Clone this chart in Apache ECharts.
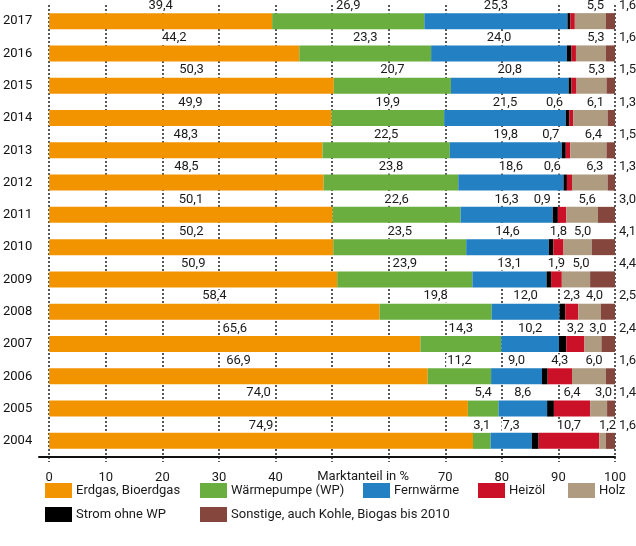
<!DOCTYPE html>
<html>
<head>
<meta charset="utf-8">
<script src="https://cdn.jsdelivr.net/npm/echarts@6/dist/echarts.min.js"></script>
<style>html,body{margin:0;padding:0;background:#fff}#c{width:636px;height:546px}</style>
</head>
<body>
<div id="c"></div>
<script>
const years = ['2004','2005','2006','2007','2008','2009','2010','2011','2012','2013','2014','2015','2016','2017'];
const erdgas   = [74.9, 74.0, 66.9, 65.6, 58.4, 50.9, 50.2, 50.1, 48.5, 48.3, 49.9, 50.3, 44.2, 39.4];
const waermepumpe = [3.1, 5.4, 11.2, 14.3, 19.8, 23.9, 23.5, 22.6, 23.8, 22.5, 19.9, 20.7, 23.3, 26.9];
const fernwaerme = [7.3, 8.6, 9.0, 10.2, 12.0, 13.1, 14.6, 16.3, 18.6, 19.8, 21.5, 20.8, 24.0, 25.3];
const strom    = [1.2, 1.2, 1.0, 1.3, 1.0, 0.8, 0.8, 0.9, 0.6, 0.7, 0.6, 0.5, 0.8, 0.5];
const heizoel  = [10.7, 6.4, 4.3, 3.2, 2.3, 1.9, 1.8, 1.5, 0.9, 0.8, 0.7, 0.9, 0.8, 0.8];
const holz     = [1.2, 3.0, 6.0, 3.0, 4.0, 5.0, 5.0, 5.6, 6.3, 6.4, 6.1, 5.3, 5.3, 5.5];
const sonstige = [1.6, 1.4, 1.6, 2.4, 2.5, 4.4, 4.1, 3.0, 1.3, 1.5, 1.3, 1.5, 1.6, 1.6];
const stromLabeledYears = ['2011','2012','2013','2014'];
const heizoelLabeledYears = ['2004','2005','2006','2007','2008','2009','2010'];
const xTicks = [0,10,20,30,40,50,60,70,80,90,100];
const hiddenTicks = [50,60];

const FONT = 'Roboto, "Noto Sans", sans-serif';
const fmt = v => v.toFixed(1).replace('.', ',');
const baseLabel = {show:true, position:'top', distance:1, color:'#1a1a1a', fontSize:13, fontFamily:FONT,
  backgroundColor:'#fff', padding:[0,1],
  formatter: p => fmt(p.value)};

function mk(name, data, color, labelExtra, labelYears) {
  return {
    name, type:'bar', stack:'all', barWidth:16, data: data.map((v,i)=>{
      const d = {value:v};
      if (labelYears && labelYears.indexOf(years[i]) < 0) d.label = {show:false};
      return d;
    }),
    itemStyle:{color}, label:Object.assign({}, baseLabel, labelExtra||{}),
    emphasis:{disabled:true}
  };
}

const names = ['Erdgas, Bioerdgas','Wärmepumpe (WP)','Fernwärme','Strom ohne WP','Heizöl','Holz','Sonstige, auch Kohle, Biogas bis 2010'];
const colors = ['#F29400','#69AE3E','#2280C3','#000000','#CB1127','#AF9B80','#85463D'];

const legendPos = [[45,483],[200,483],[363,483],[45,507],[478,483],[568,483],[200,507]];
const legends = names.map((n,i)=>({
  data:[n], left:legendPos[i][0], top:legendPos[i][1], padding:0, itemWidth:27, itemHeight:15, itemGap:0,
  icon:'rect', selectedMode:false, textStyle:{fontSize:13, fontFamily:FONT, color:'#1a1a1a', padding:[0,0,0,-1]}
}));

const chart = echarts.init(document.getElementById('c'));
chart.setOption({
  animation:false,
  backgroundColor:'#fff',
  grid:{left:45, right:21, top:5, bottom:89, containLabel:false},
  legend: legends,
  xAxis:{type:'value', min:0, max:100, interval:10,
    name:'Marktanteil in %', nameLocation:'middle', nameGap:13, nameMoveOverlap:false,
    nameTextStyle:{fontSize:13, fontFamily:FONT, color:'#1a1a1a', verticalAlign:'top', padding:[0,0,0,62]},
    axisLine:{show:true, lineStyle:{color:'#111', width:2}},
    axisTick:{show:true, length:5, lineStyle:{color:'#222', width:1.5, type:[2,2]}},
    axisLabel:{fontSize:13, fontFamily:FONT, color:'#1a1a1a', margin:14,
      formatter: v => hiddenTicks.indexOf(v) >= 0 || xTicks.indexOf(v) < 0 ? '' : String(v)},
    splitLine:{show:true, lineStyle:{color:'#222', width:1.5, type:[2,2]}}
  },
  yAxis:{type:'category', data:years,
    axisLine:{show:false}, axisTick:{show:false},
    axisLabel:{fontSize:13, fontFamily:FONT, color:'#111', margin:17}
  },
  series:[
    mk(names[0], erdgas, colors[0]),
    mk(names[1], waermepumpe, colors[1]),
    mk(names[2], fernwaerme, colors[2]),
    mk(names[3], strom, colors[3], {offset:[-13,0]}, stromLabeledYears),
    mk(names[4], heizoel, colors[4], null, heizoelLabeledYears),
    mk(names[5], holz, colors[5], {offset:[5,0]}),
    mk(names[6], sonstige, colors[6], {position:['100%',0], align:'left', verticalAlign:'bottom', offset:[3,-1]})
  ]
});
// extend the baseline slightly left of the zero line, as in the original
const p0 = chart.convertToPixel({gridIndex:0}, [0, 0]);
const gridRect = chart.getModel().getComponent('grid', 0).coordinateSystem.getRect();
chart.setOption({graphic:[{type:'line', shape:{x1:gridRect.x - 11, y1:gridRect.y + gridRect.height, x2:gridRect.x, y2:gridRect.y + gridRect.height},
  style:{stroke:'#111', lineWidth:2}, silent:true}]});
</script>
</body>
</html>
